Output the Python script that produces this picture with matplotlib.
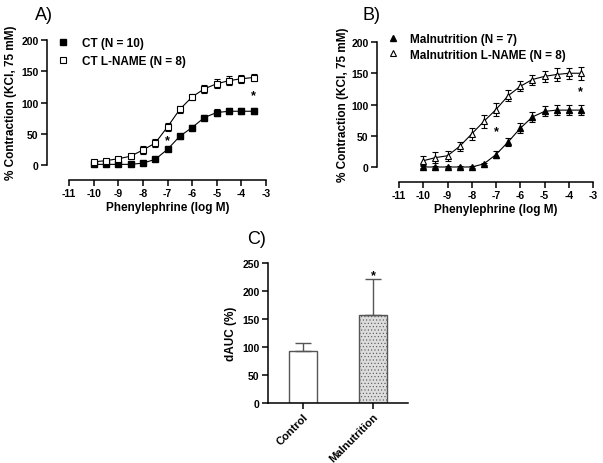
import numpy as np
import matplotlib
matplotlib.use('Agg')
import matplotlib.pyplot as plt
from matplotlib.lines import Line2D

plt.rcParams['font.family'] = ['Liberation Sans', 'DejaVu Sans']
plt.rcParams['font.weight'] = 'bold'
plt.rcParams['axes.labelweight'] = 'bold'
plt.rcParams['axes.unicode_minus'] = False
plt.rcParams['hatch.linewidth'] = 0.4

log_dose = [-10, -9.5, -9, -8.5, -8, -7.5, -7, -6.5, -6, -5.5, -5, -4.5, -4, -3.5]

ct = [1, 1, 1, 1, 3, 9, 25, 46, 60, 76, 84, 86, 86, 86]
ct_err = [1, 1, 1, 1, 1, 2, 3, 4, 4, 4, 5, 5, 5, 5]
ct_lname = [5, 7, 10, 14, 24, 35, 61, 89, 109, 122, 130, 135, 138, 140]
ct_lname_err = [2, 2, 3, 3, 7, 6, 6, 5, 5, 6, 7, 7, 6, 6]

mal = [0, 0, 0, 0, 0, 5, 20, 40, 62, 80, 89, 91, 91, 91]
mal_err = [2, 2, 2, 2, 2, 2, 5, 7, 8, 8, 8, 8, 8, 8]
mal_lname = [10, 15, 18, 33, 53, 73, 92, 114, 129, 140, 145, 148, 150, 150]
mal_lname_err = [7, 9, 8, 7, 9, 11, 10, 9, 8, 8, 9, 10, 9, 10]

groups = ['Control', 'Malnutrition']
dauc = [92, 158]
dauc_err = [15, 64]

W, H = 603, 464
fig = plt.figure(figsize=(W / 100, H / 100), dpi=100)


def box(l, r, t, b):
    return [l / W, 1 - b / H, (r - l) / W, (b - t) / H]


def style(ax, offset):
    for s in ['top', 'right']:
        ax.spines[s].set_visible(False)
    for s in ['left', 'bottom']:
        ax.spines[s].set_linewidth(1.1)
    ax.spines['left'].set_position(('outward', offset))
    ax.tick_params(direction='out', width=1.1, length=4, labelsize=7.5, pad=2)


def curve_panel(ax, ya, ea, yb, eb, mk, labels, stars, offset, leg_xy, leg_pad, leg_sp, ylab_xy):
    ax.set_xlim(-11, -3)
    ax.set_ylim(-24, 200)
    ax.plot(log_dose, ya, color='black', lw=0.8)
    ax.plot(log_dose, yb, color='black', lw=0.8)
    ax.errorbar(log_dose, ya, yerr=ea, fmt=mk, ms=5, mfc='black', mec='black',
                ecolor='black', elinewidth=0.8, capsize=2.5, capthick=0.8, lw=0)
    ax.errorbar(log_dose, yb, yerr=eb, fmt=mk, ms=5, mfc='white', mec='black', mew=0.8,
                ecolor='black', elinewidth=0.8, capsize=2.5, capthick=0.8, lw=0)
    for sx, sy in stars:
        ax.text(sx, sy, '*', ha='center', va='center', fontsize=9)
    ax.set_xticks(range(-11, -2))
    ax.set_yticks([0, 50, 100, 150, 200])
    ax.spines['left'].set_bounds(0, 200)
    ax.set_xlabel('Phenylephrine (log M)', fontsize=8.5, fontweight='bold', labelpad=2)
    ax.set_ylabel('% Contraction (KCl, 75 mM)', fontsize=8.5, fontweight='bold')
    ax.yaxis.set_label_coords(ylab_xy[0] / W, 1 - ylab_xy[1] / H, transform=fig.transFigure)
    handles = [Line2D([], [], ls='none', marker=mk, ms=4.5, mfc='black', mec='black'),
               Line2D([], [], ls='none', marker=mk, ms=4.5, mfc='white', mec='black', mew=0.8)]
    ax.legend(handles, labels, loc='upper left',
              bbox_to_anchor=(leg_xy[0] / W, 1 - leg_xy[1] / H), bbox_transform=fig.transFigure,
              frameon=False, borderpad=0, borderaxespad=0, handlelength=1.0,
              handletextpad=leg_pad, labelspacing=leg_sp, prop={'weight': 'bold', 'size': 8.5})
    style(ax, offset)


ax_a = fig.add_axes(box(69, 266, 41, 181))
curve_panel(ax_a, ct, ct_err, ct_lname, ct_lname_err, 's',
            ['CT (N = 10)', 'CT L-NAME (N = 8)'], [(-7, 39), (-3.5, 111)], 16,
            (57, 38), 1.1, 0.5, (17, 103))

ax_b = fig.add_axes(box(399, 593, 43, 183))
curve_panel(ax_b, mal, mal_err, mal_lname, mal_lname_err, '^',
            ['Malnutrition (N = 7)', 'Malnutrition L-NAME (N = 8)'], [(-7, 58), (-3.5, 122)], 16,
            (387, 34), 0.95, 0.3, (349, 105))

ax_c = fig.add_axes(box(268, 408, 264, 404))
xpos = np.arange(len(groups))
bars = ax_c.bar(xpos, dauc, width=0.41, color=['white', '#dcdcdc'], edgecolor='#555555', linewidth=1.0)
bars[1].set_hatch('.....')
ax_c.errorbar(xpos, dauc, yerr=[[0, 0], dauc_err], fmt='none', ecolor='#555555',
              elinewidth=1.0, capsize=6, capthick=1.0)
ax_c.text(1, 228, '*', ha='center', va='center', fontsize=9)
ax_c.set_xlim(-0.5, 1.5)
ax_c.set_ylim(0, 250)
ax_c.set_yticks([0, 50, 100, 150, 200, 250])
ax_c.set_xticks(xpos)
ax_c.set_xticklabels(groups, rotation=45, ha='right', rotation_mode='anchor',
                     fontsize=8, fontweight='bold')
ax_c.set_ylabel('dAUC (%)', fontsize=8.5, fontweight='bold', labelpad=4)
style(ax_c, 0)
ax_c.tick_params(axis='x', labelsize=8)

fig.text(35 / W, 1 - 7 / H, 'A)', fontsize=13, fontweight='normal', va='top')
fig.text(363 / W, 1 - 7 / H, 'B)', fontsize=13, fontweight='normal', va='top')
fig.text(247 / W, 1 - 231 / H, 'C)', fontsize=13, fontweight='normal', va='top')

fig.savefig('out.png', dpi=100)
